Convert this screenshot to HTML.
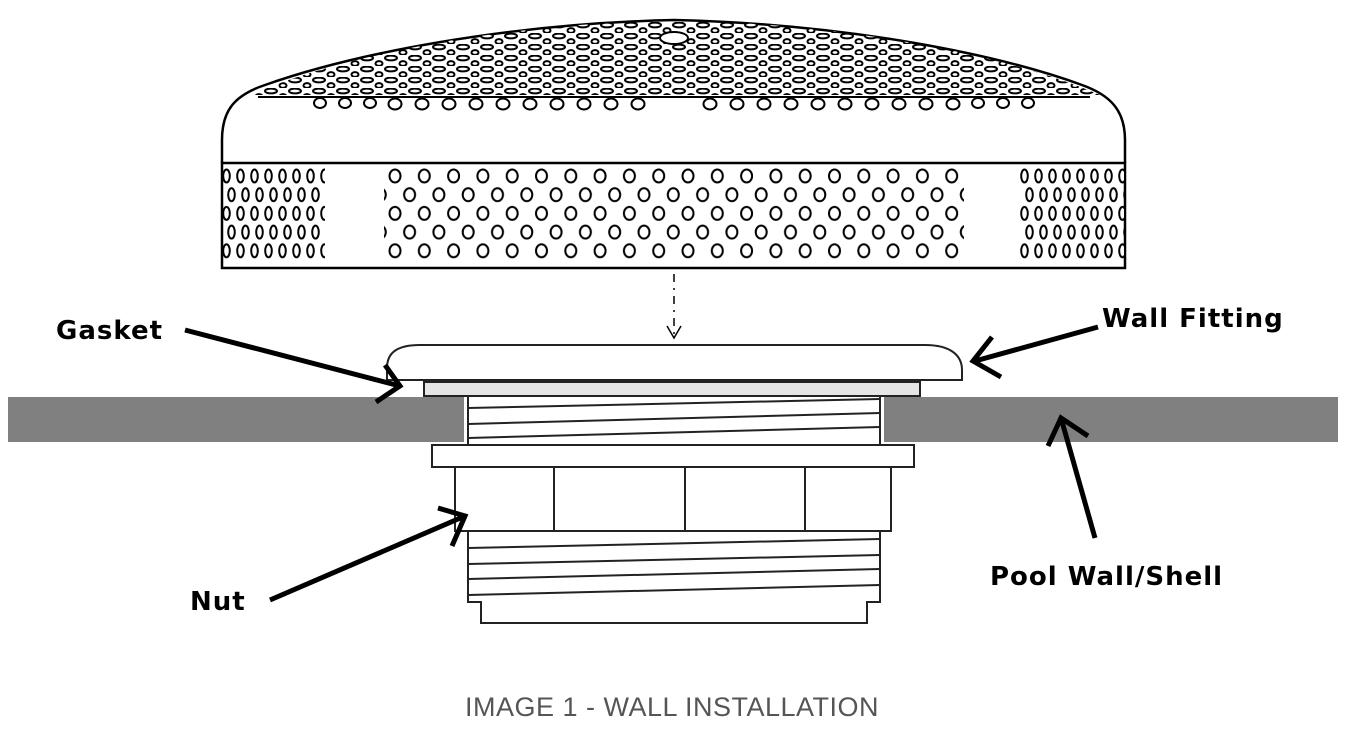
<!DOCTYPE html>
<html><head><meta charset="utf-8"><style>
html,body{margin:0;padding:0;background:#fff;}
body{width:1345px;height:744px;overflow:hidden;position:relative;}
svg{position:absolute;left:0;top:0;}
</style></head><body>
<svg width="1345" height="744" viewBox="0 0 1345 744">
<defs>
<pattern id="band" x="388" y="167" width="29.3" height="37.4" patternUnits="userSpaceOnUse">
<ellipse cx="7" cy="9" rx="5.5" ry="6.5" fill="#fff" stroke="#000" stroke-width="2"/>
<ellipse cx="21.6" cy="27.7" rx="5.5" ry="6.5" fill="#fff" stroke="#000" stroke-width="2"/>
</pattern>
<pattern id="bandE" x="222" y="167" width="14" height="37.4" patternUnits="userSpaceOnUse">
<ellipse cx="4.5" cy="9" rx="3.3" ry="6.5" fill="#fff" stroke="#000" stroke-width="2"/>
<ellipse cx="9.5" cy="27.7" rx="3.3" ry="6.5" fill="#fff" stroke="#000" stroke-width="2"/>
</pattern>
<pattern id="dome" x="0" y="0" width="24" height="11" patternUnits="userSpaceOnUse">
<ellipse cx="7" cy="3" rx="6" ry="2.4" fill="#fff" stroke="#000" stroke-width="2"/>
<ellipse cx="19" cy="8.5" rx="3.5" ry="2.4" fill="#fff" stroke="#000" stroke-width="2"/>
</pattern>
<clipPath id="domeClip"><path d="M250,95 C330,60 480,25 674,20 C870,25 1020,60 1100,95 Z"/></clipPath>
</defs>

<!-- dome -->
<path d="M222,163 L222,140 C222,110 235,95 265,85 C350,55 500,24 674,20 C850,24 1000,55 1082,85 C1110,95 1125,110 1125,140 L1125,163" fill="#fff" stroke="#000" stroke-width="2.5"/>
<rect x="230" y="22" width="890" height="74" fill="url(#dome)" clip-path="url(#domeClip)"/>
<line x1="258" y1="97" x2="1090" y2="97" stroke="#000" stroke-width="2"/>
<g fill="#fff" stroke="#000" stroke-width="2">
<ellipse cx="320" cy="103" rx="6" ry="5"/><ellipse cx="345" cy="103" rx="6" ry="5"/><ellipse cx="370" cy="103" rx="6" ry="5"/>
<ellipse cx="395" cy="104" rx="6.5" ry="5.5"/><ellipse cx="422" cy="104" rx="6.5" ry="5.5"/><ellipse cx="449" cy="104" rx="6.5" ry="5.5"/><ellipse cx="476" cy="104" rx="6.5" ry="5.5"/><ellipse cx="503" cy="104" rx="6.5" ry="5.5"/><ellipse cx="530" cy="104" rx="6.5" ry="5.5"/><ellipse cx="557" cy="104" rx="6.5" ry="5.5"/><ellipse cx="584" cy="104" rx="6.5" ry="5.5"/><ellipse cx="611" cy="104" rx="6.5" ry="5.5"/><ellipse cx="638" cy="104" rx="6.5" ry="5.5"/><ellipse cx="710" cy="104" rx="6.5" ry="5.5"/><ellipse cx="737" cy="104" rx="6.5" ry="5.5"/><ellipse cx="764" cy="104" rx="6.5" ry="5.5"/><ellipse cx="791" cy="104" rx="6.5" ry="5.5"/><ellipse cx="818" cy="104" rx="6.5" ry="5.5"/><ellipse cx="845" cy="104" rx="6.5" ry="5.5"/><ellipse cx="872" cy="104" rx="6.5" ry="5.5"/><ellipse cx="899" cy="104" rx="6.5" ry="5.5"/><ellipse cx="926" cy="104" rx="6.5" ry="5.5"/><ellipse cx="953" cy="104" rx="6.5" ry="5.5"/><ellipse cx="978" cy="103" rx="6" ry="5"/><ellipse cx="1003" cy="103" rx="6" ry="5"/><ellipse cx="1028" cy="103" rx="6" ry="5"/>
<ellipse cx="674" cy="38" rx="14" ry="6"/>
</g>

<!-- band -->
<rect x="222" y="163" width="903" height="105" fill="#fff" stroke="#000" stroke-width="2.5"/>
<rect x="384" y="165" width="580" height="94" fill="url(#band)"/>
<rect x="223" y="165" width="102" height="94" fill="url(#bandE)"/>
<rect x="1020" y="165" width="104" height="94" fill="url(#bandE)"/>

<!-- dashed arrow -->
<line x1="674" y1="274" x2="674" y2="336" stroke="#000" stroke-width="1.5" stroke-dasharray="8,6,2,6"/>
<polyline points="667,326 674,338 681,326" fill="none" stroke="#000" stroke-width="1.5"/>

<!-- wall -->
<rect x="8" y="397" width="456" height="45" fill="#808080"/>
<rect x="884" y="397" width="454" height="45" fill="#808080"/>

<!-- cap -->
<path d="M387,380 L387,368 C387,352 398,345 420,345 L925,345 C950,345 962,355 962,370 L962,380 Z" fill="#fff" stroke="#222" stroke-width="2"/>
<rect x="424" y="382" width="496" height="14" fill="#e4e5e4" stroke="#222" stroke-width="2"/>

<!-- upper threads -->
<rect x="468" y="396" width="412" height="49" fill="#fff" stroke="#222" stroke-width="2"/>
<g stroke="#222" stroke-width="2">
<line x1="468" y1="408" x2="880" y2="399"/><line x1="468" y1="424" x2="880" y2="413"/><line x1="468" y1="438" x2="880" y2="427"/>
</g>

<!-- flange / nut -->
<rect x="432" y="445" width="482" height="22" fill="#fff" stroke="#222" stroke-width="2"/>
<rect x="455" y="467" width="436" height="64" fill="#fff" stroke="#222" stroke-width="2"/>
<g stroke="#222" stroke-width="2"><line x1="554" y1="467" x2="554" y2="531"/><line x1="685" y1="467" x2="685" y2="531"/><line x1="805" y1="467" x2="805" y2="531"/></g>

<!-- lower threads -->
<path d="M468,531 L880,531 L880,602 L867,602 L867,623 L481,623 L481,602 L468,602 Z" fill="#fff" stroke="#222" stroke-width="2"/>
<g stroke="#222" stroke-width="2">
<line x1="468" y1="548" x2="880" y2="539"/><line x1="468" y1="564" x2="880" y2="555"/><line x1="468" y1="579" x2="880" y2="569"/><line x1="468" y1="595" x2="880" y2="585"/>
</g>

<!-- label arrows -->
<g stroke="#000" stroke-width="5" fill="none" stroke-linecap="butt">
<line x1="185" y1="330" x2="400" y2="386"/><polyline points="385,365 400,386 376,402"/>
<line x1="1098" y1="327" x2="975" y2="361"/><polyline points="992,337 973,361 1001,377"/>
<line x1="1095" y1="538" x2="1061" y2="418"/><polyline points="1048,446 1061,418 1088,436"/>
<line x1="270" y1="600" x2="465" y2="516"/><polyline points="438,508 465,516 452,546"/>
</g>

<g font-family="'DejaVu Sans','Liberation Sans',sans-serif" font-weight="bold" font-size="26" fill="#000" letter-spacing="1">
<text x="56" y="339">Gasket</text>
<text x="1102" y="327">Wall Fitting</text>
<text x="990" y="585">Pool Wall/Shell</text>
<text x="190" y="610">Nut</text>
</g>
<text x="672" y="716" text-anchor="middle" font-family="'Liberation Sans',sans-serif" font-size="27" fill="#555" letter-spacing="0.5">IMAGE 1 - WALL INSTALLATION</text>
</svg>
</body></html>
